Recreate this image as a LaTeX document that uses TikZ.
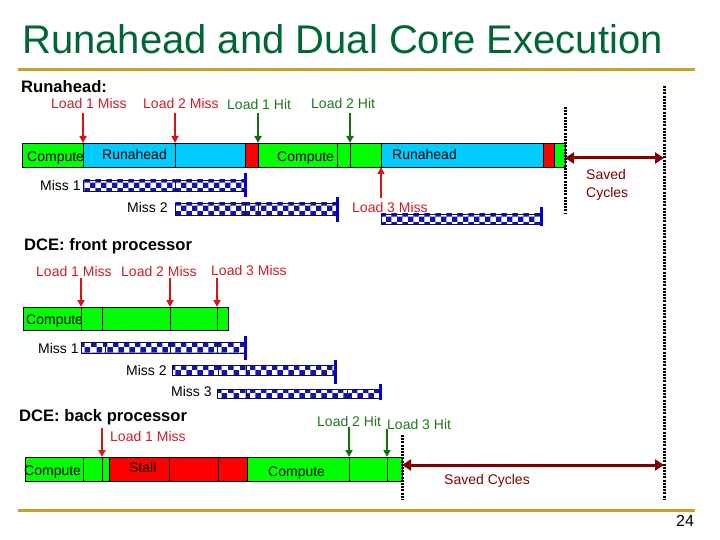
\documentclass[tikz,border=0pt]{standalone}
\usepackage{fontspec}
\setmainfont{Liberation Sans}
\usetikzlibrary{arrows.meta,patterns}
\definecolor{ttl}{RGB}{0,102,51}
\definecolor{gold}{RGB}{200,160,48}
\definecolor{lred}{RGB}{200,30,40}
\definecolor{ared}{RGB}{215,20,20}
\definecolor{lgreen}{RGB}{30,120,30}
\definecolor{agreen}{RGB}{20,110,20}
\definecolor{bgreen}{RGB}{0,255,0}
\definecolor{bcyan}{RGB}{0,204,255}
\definecolor{bred}{RGB}{255,0,0}
\definecolor{mblue}{RGB}{0,0,204}
\definecolor{chkblue}{RGB}{20,20,170}
\definecolor{chkedge}{RGB}{10,10,90}
\definecolor{saved}{RGB}{128,0,0}
\newcommand{\lblfont}{\fontsize{14}{16}\selectfont}
\newcommand{\hdfont}{\fontsize{16.6}{19}\selectfont\bfseries}
\tikzset{
  seg/.style={draw=black,line width=0.6pt,inner sep=0,outer sep=0,anchor=north west},
  chk/.style={draw=chkedge,line width=0.5pt,pattern=checkerboard,pattern color=chkblue,
              inner sep=0,outer sep=0,anchor=north west},
  lbl/.style={font=\lblfont,inner sep=0,anchor=base west},
  hd/.style={font=\hdfont,inner sep=0,anchor=base west},
  missarr/.style={ared,line width=2pt,-{Triangle[length=7pt,width=7pt]}},
  hitarr/.style={agreen,line width=2pt,-{Triangle[length=7pt,width=7pt]}},
  endbar/.style={mblue,line width=3pt},
  dotline/.style={black,line width=3pt,dash pattern=on 2pt off 1.2pt},
  savedarr/.style={saved,line width=3pt,{Triangle[length=9pt,width=11pt]}-{Triangle[length=9pt,width=11pt]}},
}
\begin{document}
\begin{tikzpicture}[x=1pt,y=-1pt]
  \useasboundingbox (0,0) rectangle (720,540);
  % ---- title and rules ----
  \node[anchor=base west,inner sep=0,ttl,font=\fontsize{40}{44}\selectfont] (title) at (22,54)
     {Runahead and Dual Core Execution};
  \draw[gold,line width=3pt] (18,70) -- (695,70);
  \draw[gold,line width=3pt] (18,510) -- (695,510);
  \node[anchor=base west,inner sep=0,font=\fontsize{16}{18}\selectfont] (page) at (676,526) {24};
  % ---- runahead ----
  \node[hd] (hra) at (21,93) {Runahead:};
  \foreach \a/\b/\c [count=\i] in {22/83/bgreen,83/175/bcyan,175/245/bcyan,245/258/bred,
      258/337/bgreen,337/350/bgreen,350/381/bgreen,381/543/bcyan,543/554/bred,554/565/bgreen}
    \node[seg,fill=\c,minimum width={(\b-\a)*1pt},minimum height=24pt] (ra\i) at (\a,143) {};
  \node[lbl] (rt1) at (27,161.5) {Compute};
  \node[lbl] (rt2) at (102,160) {Runahead};
  \node[lbl] (rt3) at (277,161.5) {Compute};
  \node[lbl] (rt4) at (392,160) {Runahead};
  \node[lbl,lred] (rl1) at (51,109) {Load 1 Miss};
  \node[lbl,lred] (rl2) at (143,109) {Load 2 Miss};
  \node[lbl,lgreen] (rl3) at (227,110) {Load 1 Hit};
  \node[lbl,lgreen] (rl4) at (311,109) {Load 2 Hit};
  \node[lbl,lred] (rl5) at (352,213) {Load 3 Miss};
  \coordinate (rs1) at (83,113);
  \coordinate (rs2) at (175,113);
  \coordinate (rs3) at (258,113);
  \coordinate (rs4) at (350,113);
  \coordinate (rs5) at (381,198);
  \draw[missarr] (rs1) -- (ra2.north west);
  \draw[missarr] (rs2) -- (ra3.north west);
  \draw[hitarr] (rs3) -- (ra5.north west);
  \draw[hitarr] (rs4) -- (ra7.north west);
  \draw[missarr,line width=1.5pt] (rs5) -- (ra8.south west);
  % misses
  \foreach \a/\b [count=\i] in {83/175,175/245}
    \node[chk,minimum width={(\b-\a)*1pt},minimum height=11pt] (rm1\i) at (\a,180) {};
  \foreach \a/\b [count=\i] in {175/245,245/258,258/337}
    \node[chk,minimum width={(\b-\a)*1pt},minimum height=12pt] (rm2\i) at (\a,203) {};
  \node[chk,minimum width=160pt,minimum height=10pt] (rm31) at (381,214) {};
  \node[lbl] (rn1) at (40,190.5) {Miss 1};
  \node[lbl] (rn2) at (127,212.7) {Miss 2};
  \draw[endbar] (245,173) -- (245,197);
  \draw[endbar] (337,197) -- (337,222);
  \draw[endbar] (541,207) -- (541,226);
  % saved cycles
  \coordinate (rd1) at (565,158);
  \coordinate (rd2) at (664,158);
  \draw[dotline] (565,107) -- (565,213);
  \draw[dotline] (664,86) -- (664,500);
  \draw[savedarr] (rd1) -- (rd2);
  \node[lbl,saved] (rsv1) at (586,180) {Saved};
  \node[lbl,saved] (rsv2) at (586,197) {Cycles};
  % ---- DCE front ----
  \node[hd] (hfr) at (24,250.7) {DCE: front processor};
  \foreach \a/\b [count=\i] in {23/81,81/102,102/170,170/217,217/228}
    \node[seg,fill=bgreen,minimum width={(\b-\a)*1pt},minimum height=23pt] (fa\i) at (\a,307) {};
  \node[lbl] (ft1) at (26,324) {Compute};
  \node[lbl,lred] (fl1) at (36,276) {Load 1 Miss};
  \node[lbl,lred] (fl2) at (121,276) {Load 2 Miss};
  \node[lbl,lred] (fl3) at (211,275) {Load 3 Miss};
  \coordinate (fs1) at (81,278);
  \coordinate (fs2) at (170,278);
  \coordinate (fs3) at (217,278);
  \draw[missarr] (fs1) -- (fa2.north west);
  \draw[missarr] (fs2) -- (fa4.north west);
  \draw[missarr] (fs3) -- (fa5.north west);
  \foreach \a/\b [count=\i] in {81/105,105/170,170/217,217/245}
    \node[chk,minimum width={(\b-\a)*1pt},minimum height=11pt] (fm1\i) at (\a,342) {};
  \foreach \a/\b [count=\i] in {172/218,218/246,246/335}
    \node[chk,minimum width={(\b-\a)*1pt},minimum height=10pt] (fm2\i) at (\a,365) {};
  \foreach \a/\b [count=\i] in {217/246,246/347,347/380}
    \node[chk,minimum width={(\b-\a)*1pt},minimum height=9pt] (fm3\i) at (\a,389) {};
  \node[lbl] (fn1) at (38,353) {Miss 1};
  \node[lbl] (fn2) at (126,375) {Miss 2};
  \node[lbl] (fn3) at (171,396) {Miss 3};
  \draw[endbar] (245,336) -- (245,360);
  \draw[endbar] (335,360) -- (335,384);
  \draw[endbar] (380,384) -- (380,400);
  % ---- DCE back ----
  \node[hd] (hbk) at (19,421.7) {DCE: back processor};
  \foreach \a/\b/\c [count=\i] in {25/83/bgreen,83/102/bgreen,102/109/bgreen,109/169/bred,
      169/218/bred,218/247/bred,247/349/bgreen,349/387/bgreen,387/402/bgreen}
    \node[seg,fill=\c,minimum width={(\b-\a)*1pt},minimum height=24pt] (ba\i) at (\a,457) {};
  \node[lbl] (bt1) at (24,475) {Compute};
  \node[lbl] (bt2) at (129,472) {Stall};
  \node[lbl] (bt3) at (268,476) {Compute};
  \node[lbl,lred] (bl1) at (110,441) {Load 1 Miss};
  \node[lbl,lgreen] (bl2) at (317,426.7) {Load 2 Hit};
  \node[lbl,lgreen] (bl3) at (387,429) {Load 3 Hit};
  \coordinate (bs1) at (102,428);
  \coordinate (bs2) at (349,427);
  \coordinate (bs3) at (387,429);
  \draw[missarr] (bs1) -- (ba3.north west);
  \draw[hitarr] (bs2) -- (ba8.north west);
  \draw[hitarr] (bs3) -- (ba9.north west);
  \coordinate (bd1) at (402,465);
  \coordinate (bd2) at (664,465);
  \draw[dotline] (402,435) -- (402,500);
  \draw[savedarr] (bd1) -- (bd2);
  \node[lbl,saved] (bsv) at (444,484) {Saved Cycles};
\end{tikzpicture}
\end{document}
